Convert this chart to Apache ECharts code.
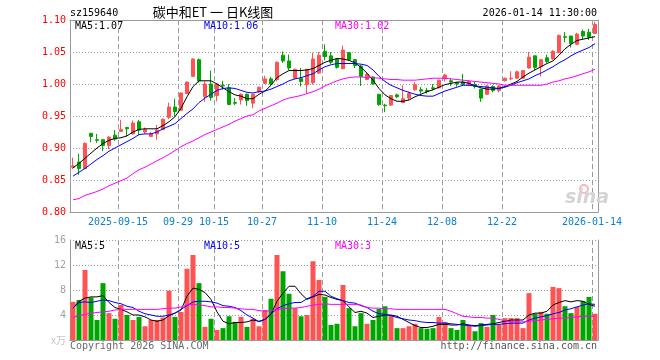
<!DOCTYPE html>
<html><head><meta charset="utf-8">
<script src="https://cdn.jsdelivr.net/npm/echarts@6/dist/echarts.min.js"></script>
<style>html,body{margin:0;padding:0;background:#fff}#c{width:660px;height:360px}</style>
</head><body><div id="c"></div>
<script>
const dates = [
'2025-09-03','2025-09-04','2025-09-05','2025-09-08','2025-09-09','2025-09-10','2025-09-11','2025-09-12',
'2025-09-15','2025-09-16','2025-09-17','2025-09-18','2025-09-19','2025-09-22','2025-09-23','2025-09-24','2025-09-25','2025-09-26',
'2025-09-29','2025-09-30','2025-10-09','2025-10-10','2025-10-13','2025-10-14',
'2025-10-15','2025-10-16','2025-10-17','2025-10-20','2025-10-21','2025-10-22','2025-10-23','2025-10-24',
'2025-10-27','2025-10-28','2025-10-29','2025-10-30','2025-10-31','2025-11-03','2025-11-04','2025-11-05','2025-11-06','2025-11-07',
'2025-11-10','2025-11-11','2025-11-12','2025-11-13','2025-11-14','2025-11-17','2025-11-18','2025-11-19','2025-11-20','2025-11-21',
'2025-11-24','2025-11-25','2025-11-26','2025-11-27','2025-11-28','2025-12-01','2025-12-02','2025-12-03','2025-12-04','2025-12-05',
'2025-12-08','2025-12-09','2025-12-10','2025-12-11','2025-12-12','2025-12-15','2025-12-16','2025-12-17','2025-12-18','2025-12-19',
'2025-12-22','2025-12-23','2025-12-24','2025-12-25','2025-12-26','2025-12-29','2025-12-30','2025-12-31',
'2026-01-05','2026-01-06','2026-01-07','2026-01-08','2026-01-09','2026-01-12','2026-01-13','2026-01-14'];

const opens = [0.870,0.878,0.868,0.923,0.913,0.913,0.904,0.920,0.926,0.932,
0.922,0.941,0.925,0.918,0.922,0.929,0.948,0.964,0.959,0.985,
1.012,1.038,0.980,1.000,0.982,0.998,0.994,0.971,0.975,0.984,
0.970,0.988,1.001,1.008,1.007,1.045,1.036,1.009,1.009,0.999,
1.002,1.017,1.051,1.044,1.039,1.024,1.049,1.038,1.028,1.007,
1.011,0.984,0.967,0.967,0.983,0.971,0.978,0.991,0.991,0.990,
0.994,0.994,1.008,1.005,1.002,1.003,0.9995,0.9995,0.992,0.984,
0.996,0.990,1.005,1.008,1.009,1.009,1.025,1.044,1.027,1.041,
1.039,1.049,1.074,1.075,1.062,1.082,1.081,1.079];
const closes = [0.872,0.868,0.907,0.918,0.912,0.904,0.917,0.914,0.929,0.930,
0.939,0.928,0.929,0.922,0.928,0.945,0.964,0.957,0.986,1.003,
1.039,1.005,1.000,0.979,1.000,0.997,0.968,0.970,0.984,0.974,
0.984,0.995,1.008,1.000,1.034,1.036,1.025,1.023,1.004,1.023,
1.039,1.045,1.043,1.034,1.026,1.053,1.038,1.029,1.012,1.015,
1.000,0.968,0.966,0.982,0.980,0.977,0.985,0.999,0.989,0.988,
0.993,1.006,1.014,1.003,1.000,0.999,1.004,0.996,0.978,0.997,
0.990,0.997,1.009,1.009,1.019,1.021,1.042,1.026,1.038,1.035,
1.051,1.076,1.073,1.063,1.078,1.075,1.073,1.093];
const lows = [0.867,0.858,0.867,0.909,0.908,0.895,0.898,0.911,0.925,0.918,
0.921,0.920,0.922,0.917,0.913,0.928,0.945,0.950,0.958,0.984,
1.011,1.002,0.972,0.974,0.973,0.991,0.967,0.967,0.968,0.966,
0.962,0.986,1.000,0.998,1.004,1.033,1.022,1.008,0.996,0.985,
0.999,1.016,1.037,1.031,1.024,1.023,1.036,1.025,0.997,1.006,
0.999,0.966,0.956,0.966,0.978,0.970,0.975,0.989,0.985,0.985,
0.990,0.993,1.004,0.997,0.996,0.998,0.997,0.993,0.972,0.983,
0.987,0.987,1.004,1.006,1.008,1.008,1.024,1.022,1.012,1.033,
1.038,1.048,1.065,1.057,1.061,1.070,1.069,1.078];
const highs = [0.885,0.891,0.909,0.923,0.922,0.913,0.919,0.928,0.944,0.933,
0.943,0.944,0.932,0.925,0.936,0.946,0.971,0.977,0.987,1.004,
1.040,1.040,1.004,1.021,1.001,1.005,1.000,0.978,0.985,0.985,
0.985,0.996,1.013,1.011,1.035,1.051,1.046,1.024,1.025,1.023,
1.049,1.050,1.062,1.050,1.040,1.060,1.050,1.039,1.030,1.017,
1.012,0.984,0.969,0.983,0.985,0.998,0.988,1.003,0.995,0.994,
1.000,1.007,1.016,1.009,1.003,1.016,1.006,1.004,0.992,0.998,
0.998,0.998,1.010,1.020,1.021,1.022,1.050,1.044,1.039,1.046,
1.053,1.077,1.081,1.075,1.080,1.085,1.086,1.097];

const ma5 = [0.869,0.876,0.884,0.892,0.900,0.907,0.912,0.915,0.916,0.919,
0.925,0.929,0.930,0.930,0.930,0.935,0.941,0.949,0.962,0.980,
0.996,1.005,1.005,1.005,1.000,0.994,0.988,0.983,0.981,0.977,
0.977,0.984,0.989,0.998,1.010,1.016,1.021,1.021,1.021,1.022,
1.024,1.029,1.034,1.037,1.040,1.039,1.037,1.033,1.026,1.017,
1.006,0.993,0.983,0.977,0.973,0.973,0.975,0.980,0.984,0.988,
0.991,0.995,0.999,1.001,1.003,1.003,1.001,0.997,0.994,0.992,
0.992,0.993,0.996,1.000,1.004,1.011,1.017,1.022,1.027,1.032,
1.036,1.045,1.055,1.062,1.068,1.070,1.072,1.074];
const ma10 = [0.856,0.862,0.868,0.875,0.882,0.888,0.895,0.900,0.905,0.910,
0.915,0.921,0.922,0.922,0.925,0.930,0.934,0.938,0.946,0.954,
0.961,0.971,0.978,0.984,0.990,0.993,0.994,0.993,0.990,0.987,
0.986,0.988,0.989,0.992,0.996,1.000,1.005,1.008,1.010,1.013,
1.016,1.022,1.027,1.030,1.032,1.032,1.032,1.032,1.031,1.029,
1.022,1.012,1.004,0.998,0.994,0.990,0.987,0.984,0.982,0.981,
0.981,0.985,0.989,0.992,0.995,0.998,0.998,0.997,0.996,0.995,
0.994,0.993,0.995,0.998,1.002,1.005,1.008,1.013,1.017,1.022,
1.027,1.033,1.038,1.044,1.049,1.053,1.057,1.063];
const ma30 = [0.819,0.821,0.826,0.829,0.832,0.836,0.841,0.845,0.849,0.853,
0.860,0.866,0.870,0.875,0.880,0.885,0.890,0.896,0.902,0.907,
0.911,0.916,0.921,0.925,0.929,0.933,0.937,0.942,0.946,0.950,
0.952,0.958,0.962,0.966,0.970,0.975,0.978,0.980,0.982,0.985,
0.988,0.992,0.997,1.001,1.005,1.008,1.010,1.011,1.011,1.010,
1.010,1.009,1.008,1.007,1.007,1.006,1.006,1.006,1.007,1.008,
1.009,1.009,1.009,1.008,1.007,1.006,1.005,1.004,1.003,1.002,
1.001,1.000,0.998,0.998,0.998,0.998,0.998,0.998,0.998,1.000,
1.003,1.005,1.008,1.010,1.013,1.016,1.019,1.023];

const volumes = [6.1,6.4,11.2,6.8,3.2,9.1,4.3,3.4,5.6,4.0,
3.2,3.7,2.2,3.2,3.2,3.6,7.9,3.7,4.5,11.4,
13.6,9.1,2.1,3.4,1.6,1.9,3.8,2.9,3.7,2.1,
3.4,2.2,4.8,6.6,13.6,11.0,7.4,5.1,3.8,4.0,
12.6,9.6,6.9,2.4,2.6,8.8,5.1,2.2,4.3,2.6,
3.2,5.0,5.4,4.0,1.9,1.9,2.2,2.6,1.9,1.8,
1.9,3.7,2.9,1.9,1.6,3.2,2.4,1.4,2.7,2.1,
4.0,2.4,3.5,3.5,3.5,1.9,7.5,4.2,4.5,4.2,
8.5,8.3,5.4,4.3,5.3,6.2,6.9,4.2];
const vma5 = [5.1,6.2,6.7,6.9,6.9,7.1,6.0,5.2,4.9,4.5,
4.0,4.0,3.7,3.2,3.0,3.2,3.9,4.3,4.8,7.0,
8.3,8.1,7.6,6.5,4.5,3.0,2.6,2.8,2.8,2.9,
3.2,3.0,3.3,4.1,6.2,7.5,8.6,8.6,7.4,6.5,
6.9,7.3,7.2,6.8,6.5,6.3,5.3,4.4,4.6,4.3,
3.6,3.8,4.0,4.0,3.8,3.3,2.8,2.3,2.0,2.0,
2.2,2.5,2.5,2.4,2.4,2.6,2.4,2.3,2.4,2.5,
2.6,2.8,3.0,3.2,3.2,3.2,4.0,4.3,4.3,4.6,
5.6,6.0,6.3,6.1,6.3,6.2,5.7,5.4];
const vma10 = [5.1,6.0,6.1,6.0,6.2,6.4,6.3,6.0,5.8,5.4,
5.2,4.6,4.2,4.0,3.8,3.8,4.0,4.3,4.9,5.5,
6.1,6.2,6.2,6.1,5.9,5.5,5.4,5.2,4.7,4.0,
3.5,2.9,3.3,4.2,5.0,5.5,5.8,6.0,6.0,6.6,
7.0,7.8,7.8,7.0,6.6,6.3,6.0,5.9,5.5,5.2,
4.6,4.2,4.1,3.9,3.6,3.4,3.2,3.1,2.9,2.8,
2.8,2.7,2.7,2.6,2.5,2.4,2.3,2.2,2.3,2.4,
2.5,2.5,2.6,2.7,2.7,2.7,3.2,3.5,3.7,3.9,
4.2,4.4,4.8,5.0,5.3,5.6,5.8,5.7];
const vma30 = [3.6,3.9,4.1,4.3,4.4,4.5,4.6,4.8,4.9,4.9,
4.9,4.9,4.9,4.9,4.9,5.0,5.1,5.1,5.3,5.6,
5.7,5.6,5.5,5.3,5.3,5.2,5.2,5.1,5.0,4.9,
4.9,4.7,4.6,4.7,4.9,5.0,5.1,5.1,5.2,5.4,
5.6,5.7,5.8,5.7,5.7,5.7,5.7,5.7,5.6,5.2,
5.1,5.1,5.0,5.0,4.9,4.9,4.9,4.9,4.9,4.9,
4.9,4.9,4.9,4.6,4.2,3.8,3.7,3.6,3.6,3.5,
3.5,3.3,3.1,2.9,2.9,2.9,3.0,3.1,3.2,3.3,
3.4,3.5,3.5,3.6,3.7,3.8,3.8,3.8];

const xTickIdx = [8,18,24,32,42,52,62,72,87];
const xTickText = ['2025-09-15','09-29','10-15','10-27','11-10','11-24','12-08','12-22','2026-01-14'];
const volTickLabels = ['x万','4','8','12','16'];

const RED = '#ff5353', GREEN = '#00a600';
const MONO = 'DejaVu Sans Mono';
const GRIDC = '#999999';
const FRAME = '#999999';

const G0 = { left: 70, top: 20, width: 528, height: 192 };
const G1 = { left: 70, top: 240, width: 528, height: 100 };

const candleData = dates.map((d, i) => [opens[i], closes[i], lows[i], highs[i]]);
const volData = volumes.map((v, i) => ({ value: v, itemStyle: { color: closes[i] >= opens[i] ? RED : GREEN } }));

const isTick = (i) => xTickIdx.indexOf(i) >= 0;

const chart = echarts.init(document.getElementById('c'));

function txt(x, y, text, fill, opts) {
  opts = opts || {};
  return { type: 'text', x: x, y: y, z: 100, style: Object.assign({
    text: text, fill: fill, fontSize: 10, fontFamily: MONO, align: 'left', verticalAlign: 'middle'
  }, opts) };
}

function xAxisFor(gi, withLabel) {
  return {
    type: 'category', gridIndex: gi, data: dates, boundaryGap: true,
    axisLine: { show: true, lineStyle: { color: FRAME, width: 1 } },
    axisTick: { show: false },
    axisLabel: withLabel ? {
      show: true, interval: isTick,
      formatter: (v, i) => xTickText[xTickIdx.indexOf(i)] || '',
      color: '#0a80d0', fontFamily: MONO, fontSize: 10, margin: 5, padding: [0, 6, 0, 0]
    } : { show: false },
    splitLine: { show: true, interval: isTick, lineStyle: { color: GRIDC, width: 1, type: [5, 3] } }
  };
}
function topAxisFor(gi) {
  return { type: 'category', gridIndex: gi, position: 'top', data: dates, boundaryGap: true,
    axisLine: { show: true, lineStyle: { color: FRAME, width: 1 } }, axisTick: { show: false },
    axisLabel: { show: false }, splitLine: { show: false } };
}

chart.setOption({
  animation: false,
  backgroundColor: '#fff',
  grid: [G0, G1],
  xAxis: [xAxisFor(0, true), xAxisFor(1, false), topAxisFor(0), topAxisFor(1)],
  yAxis: [
    {
      type: 'value', gridIndex: 0, min: 0.80, max: 1.10, interval: 0.05,
      axisLine: { show: true, lineStyle: { color: FRAME, width: 1 } }, axisTick: { show: false },
      axisLabel: { color: '#ff0000', fontFamily: MONO, fontSize: 10, margin: 4, formatter: (v) => v.toFixed(2) },
      splitLine: { show: true, lineStyle: { color: GRIDC, width: 1, type: [1, 2] } }
    },
    {
      type: 'value', gridIndex: 1, min: 0, max: 16, interval: 4,
      axisLine: { show: true, lineStyle: { color: FRAME, width: 1 } }, axisTick: { show: false },
      axisLabel: {
        color: '#a0a0a0', fontFamily: MONO, fontSize: 10, margin: 4,
        formatter: (v) => { const k = Math.round(v / 4); return k === 0 ? '{u|' + volTickLabels[0] + '}' : volTickLabels[k]; },
        rich: { u: { color: '#c4c4c4', fontSize: 10, fontFamily: 'Noto Sans CJK SC' } }
      },
      splitLine: { show: true, lineStyle: { color: GRIDC, width: 1, type: [1, 2] } }
    },
    { type: 'value', gridIndex: 0, position: 'right', min: 0, max: 1, axisLine: { show: true, lineStyle: { color: FRAME, width: 1 } },
      axisTick: { show: false }, axisLabel: { show: false }, splitLine: { show: false } },
    { type: 'value', gridIndex: 1, position: 'right', min: 0, max: 1, axisLine: { show: true, lineStyle: { color: FRAME, width: 1 } },
      axisTick: { show: false }, axisLabel: { show: false }, splitLine: { show: false } }
  ],
  series: [
    {
      type: 'candlestick', xAxisIndex: 0, yAxisIndex: 0, data: candleData, barWidth: 4,
      itemStyle: { color: RED, color0: GREEN, borderColor: RED, borderColor0: GREEN, borderWidth: 1 }
    },
    { type: 'line', xAxisIndex: 0, yAxisIndex: 0, data: ma5, symbol: 'none', lineStyle: { color: '#000', width: 1 }, z: 3 },
    { type: 'line', xAxisIndex: 0, yAxisIndex: 0, data: ma10, symbol: 'none', lineStyle: { color: '#0000ff', width: 1 }, z: 3 },
    { type: 'line', xAxisIndex: 0, yAxisIndex: 0, data: ma30, symbol: 'none', lineStyle: { color: '#ff00ff', width: 1 }, z: 3 },
    { type: 'bar', xAxisIndex: 1, yAxisIndex: 1, data: volData, barWidth: 5 },
    { type: 'line', xAxisIndex: 1, yAxisIndex: 1, data: vma5, symbol: 'none', lineStyle: { color: '#000', width: 1 }, z: 3 },
    { type: 'line', xAxisIndex: 1, yAxisIndex: 1, data: vma10, symbol: 'none', lineStyle: { color: '#0000ff', width: 1 }, z: 3 },
    { type: 'line', xAxisIndex: 1, yAxisIndex: 1, data: vma30, symbol: 'none', lineStyle: { color: '#ff00ff', width: 1 }, z: 3 }
  ],
  graphic: [
    txt(70, 13, 'sz159640', '#000'),
    txt(213, 12, '碳中和ET 一 日K线图', '#000', { align: 'center', fontSize: 13, fontFamily: 'Noto Sans CJK SC' }),
    txt(597, 13, '2026-01-14 11:30:00', '#000', { align: 'right' }),
    txt(75, 26, 'MA5:1.07', '#000'),
    txt(204, 26, 'MA10:1.06', '#0000ff'),
    txt(335, 26, 'MA30:1.02', '#ff00ff'),
    txt(75, 246, 'MA5:5', '#000'),
    txt(204, 246, 'MA10:5', '#0000ff'),
    txt(335, 246, 'MA30:3', '#ff00ff'),
    txt(70, 346, 'Copyright 2026 SINA.COM', '#6a6a6a'),
    txt(597, 346, 'http://finance.sina.com.cn', '#555', { align: 'right' }),
    { type: 'circle', z: 1, shape: { cx: 584, cy: 189, r: 4 }, style: { fill: 'none', stroke: '#f4b8b8', lineWidth: 2 } },
    txt(565, 198, 'sina', '#d4d4d4', { fontSize: 19, fontFamily: 'DejaVu Sans', fontWeight: 'bold', fontStyle: 'italic' })
  ]
});
</script>
</body></html>
